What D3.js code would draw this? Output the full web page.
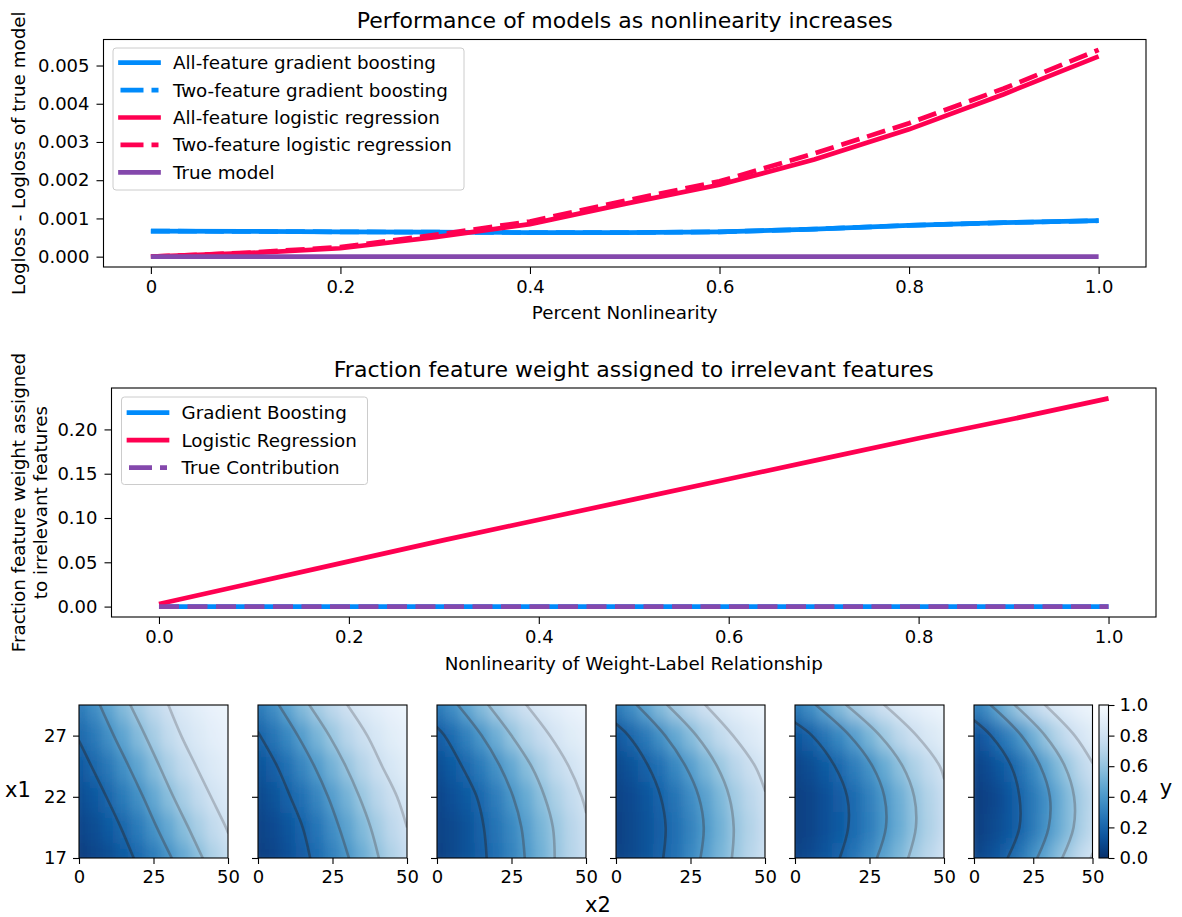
<!DOCTYPE html>
<html><head><meta charset="utf-8">
<script src="https://cdn.jsdelivr.net/npm/d3@7"></script>
<style>
body{margin:0;background:#fff;}
svg{font-family:"DejaVu Sans",sans-serif;}
</style></head><body>
<svg id="chart" width="1182" height="917"></svg>
<script>
// ================= DATA =================
// Top chart: performance vs. percent nonlinearity
const nonlinearity = [0, 0.1, 0.2, 0.3, 0.4, 0.5, 0.6, 0.7, 0.8, 0.9, 1.0];
const gbAllFeature = [0.00067, 0.00066, 0.00065, 0.00064, 0.00063, 0.00063, 0.00065, 0.00072, 0.00082, 0.00089, 0.00094];
const gbTwoFeature = [0.00067, 0.00066, 0.00065, 0.00064, 0.00063, 0.00063, 0.00065, 0.00072, 0.00082, 0.00089, 0.00094];
const lrAllFeature = [0, 0.00009, 0.00022, 0.00051, 0.00085, 0.00138, 0.00188, 0.00254, 0.00333, 0.00425, 0.00524];
const lrTwoFeature = [0, 0.00010, 0.00025, 0.00057, 0.00092, 0.00146, 0.00197, 0.00270, 0.00349, 0.00440, 0.00541];
const trueModel = [0, 0, 0, 0, 0, 0, 0, 0, 0, 0, 0];
const topLegendLabels = ["All-feature gradient boosting", "Two-feature gradient boosting", "All-feature logistic regression", "Two-feature logistic regression", "True model"];
const topXTicks = [0, 0.2, 0.4, 0.6, 0.8, 1.0];
const topXTickLabels = ["0", "0.2", "0.4", "0.6", "0.8", "1.0"];
const topYTicks = [0, 0.001, 0.002, 0.003, 0.004, 0.005];
const topYTickLabels = ["0.000", "0.001", "0.002", "0.003", "0.004", "0.005"];

// Middle chart: fraction weight on irrelevant features
const weightNonlinearity = [0, 0.1, 0.2, 0.3, 0.4, 0.5, 0.6, 0.7, 0.8, 0.9, 1.0];
const gbIrrelevant = [0, 0, 0, 0, 0, 0, 0, 0, 0, 0, 0];
const lrIrrelevant = [0.003, 0.027, 0.051, 0.075, 0.098, 0.121, 0.144, 0.167, 0.190, 0.212, 0.235];
const trueIrrelevant = [0, 0, 0, 0, 0, 0, 0, 0, 0, 0, 0];
const midLegendLabels = ["Gradient Boosting", "Logistic Regression", "True Contribution"];
const midXTicks = [0, 0.2, 0.4, 0.6, 0.8, 1.0];
const midXTickLabels = ["0.0", "0.2", "0.4", "0.6", "0.8", "1.0"];
const midYTicks = [0, 0.05, 0.10, 0.15, 0.20];
const midYTickLabels = ["0.00", "0.05", "0.10", "0.15", "0.20"];

// Bottom: y over (x2, x1) for increasing nonlinearity; rows are x1, columns are x2
const x2Values = [0, 5, 10, 15, 20, 25, 30, 35, 40, 45, 50];
const x1Values = [17, 19.5, 22, 24.5, 27, 29.5];
const gridPanel1 = [
  [.05,.08,.11,.16,.22,.29,.38,.47,.57,.67,.75],
  [.08,.11,.16,.21,.29,.38,.47,.57,.66,.74,.81],
  [.11,.15,.21,.29,.37,.47,.57,.66,.74,.81,.86],
  [.15,.21,.28,.37,.46,.56,.66,.74,.81,.86,.90],
  [.21,.28,.37,.46,.56,.65,.74,.81,.86,.90,.93],
  [.28,.36,.46,.56,.65,.73,.80,.86,.90,.93,.95]];
const gridPanel2 = [
  [.06,.08,.12,.17,.23,.31,.39,.49,.59,.68,.76],
  [.07,.10,.14,.20,.27,.36,.45,.55,.64,.73,.80],
  [.09,.13,.19,.25,.33,.43,.52,.62,.71,.78,.84],
  [.13,.18,.25,.33,.42,.52,.61,.70,.78,.84,.89],
  [.19,.26,.34,.43,.53,.62,.71,.78,.84,.89,.92],
  [.28,.36,.46,.56,.65,.73,.80,.86,.90,.93,.95]];
const gridPanel3 = [
  [.06,.09,.13,.18,.24,.32,.41,.51,.61,.70,.77],
  [.07,.09,.13,.19,.26,.34,.43,.53,.62,.71,.78],
  [.08,.12,.16,.22,.30,.39,.48,.58,.67,.75,.82],
  [.11,.16,.22,.29,.38,.47,.57,.66,.75,.81,.87],
  [.17,.23,.31,.40,.50,.60,.69,.76,.83,.88,.91],
  [.28,.36,.46,.56,.65,.73,.80,.86,.90,.93,.95]];
const gridPanel4 = [
  [.07,.09,.13,.19,.25,.34,.43,.53,.62,.71,.78],
  [.06,.09,.13,.18,.24,.32,.41,.51,.61,.69,.77],
  [.07,.10,.14,.20,.26,.35,.44,.54,.64,.72,.79],
  [.09,.13,.19,.25,.34,.43,.53,.62,.71,.78,.84],
  [.15,.21,.28,.37,.47,.56,.66,.74,.81,.86,.90],
  [.28,.36,.46,.56,.65,.73,.80,.86,.90,.93,.95]];
const gridPanel5 = [
  [.07,.10,.14,.20,.27,.35,.45,.54,.64,.72,.80],
  [.06,.08,.12,.16,.23,.30,.39,.49,.59,.68,.76],
  [.06,.08,.12,.17,.23,.31,.40,.50,.60,.69,.77],
  [.08,.11,.16,.22,.30,.38,.48,.58,.67,.75,.82],
  [.14,.19,.26,.34,.43,.53,.63,.72,.79,.85,.89],
  [.28,.36,.46,.56,.65,.73,.80,.86,.90,.93,.95]];
const gridPanel6 = [
  [.07,.11,.15,.21,.28,.37,.46,.56,.65,.74,.81],
  [.05,.08,.11,.15,.21,.28,.37,.47,.56,.66,.74],
  [.05,.07,.10,.15,.21,.28,.36,.46,.56,.65,.73],
  [.07,.10,.14,.19,.26,.34,.44,.54,.63,.72,.79],
  [.12,.17,.24,.31,.40,.50,.60,.69,.77,.83,.88],
  [.28,.36,.46,.56,.65,.73,.80,.86,.90,.93,.95]];
const contourLevels = [0.2, 0.4, 0.6, 0.8];
const x2Ticks = [0, 25, 50];
const x1Ticks = [17, 22, 27];
const x1Range = [17, 29.5];
const x2Range = [0, 50];
const colorbarTicks = [0, 0.2, 0.4, 0.6, 0.8, 1.0];

// ================= STYLE =================
const BLUE = "#008bfb", RED = "#ff0051", PURPLE = "#8448ac";
const FONT = "DejaVu Sans";
const TICK_FS = 18, LABEL_FS = 18.3, LEGEND_FS = 18.3, TITLE_FS = 22;
const LW = 4.7, DASH = "19,8", DASH_TRUE = "20,8.5", LEGEND_DASH = "23,8";
const svg = d3.select("#chart");
const defs = svg.append("defs");

function padDomain(vals, frac) {
  const [a, b] = d3.extent(vals);
  const p = (b - a) * frac;
  return [a - p, b + p];
}
function styleAxis(g) {
  g.attr("font-family", FONT).attr("font-size", TICK_FS);
  g.select(".domain").remove();
  g.selectAll(".tick line").attr("stroke", "#000").attr("stroke-width", 1.1);
  g.selectAll(".tick text").attr("fill", "#000");
}
function frame(g, x0, y0, w, h) {
  g.append("rect").attr("x", x0).attr("y", y0).attr("width", w).attr("height", h)
    .attr("fill", "none").attr("stroke", "#000").attr("stroke-width", 1.1);
}
function legend(g, x0, y0, w, h, rowY0, rowStep, items) {
  g.append("rect").attr("x", x0).attr("y", y0).attr("width", w).attr("height", h)
    .attr("rx", 3).attr("fill", "#fff").attr("fill-opacity", 0.8)
    .attr("stroke", "#cccccc").attr("stroke-width", 1);
  items.forEach((it, i) => {
    const yy = rowY0 + i * rowStep;
    g.append("line").attr("x1", x0 + 7.5).attr("x2", x0 + 45.5).attr("y1", yy).attr("y2", yy)
      .attr("stroke", it.color).attr("stroke-width", LW)
      .attr("stroke-linecap", it.dash ? "butt" : "square")
      .attr("stroke-dasharray", it.dash ? LEGEND_DASH : null);
    g.append("text").attr("x", x0 + 60).attr("y", yy).attr("dy", "0.36em")
      .attr("font-size", LEGEND_FS).attr("font-family", FONT).attr("fill", "#000").text(it.label);
  });
}

// ================= TOP CHART =================
(function () {
  const L = 103.5, R = 1146, T = 39.5, B = 267;
  const g = svg.append("g");
  const x = d3.scaleLinear().domain(padDomain(nonlinearity, 0.05)).range([L, R]);
  const allVals = [].concat(gbAllFeature, gbTwoFeature, lrAllFeature, lrTwoFeature, trueModel);
  const y = d3.scaleLinear().domain(padDomain(allVals, 0.05)).range([B, T]);
  const ax = g.append("g").attr("transform", `translate(0,${B})`)
    .call(d3.axisBottom(x).tickValues(topXTicks).tickFormat((d, i) => topXTickLabels[i]).tickSize(7).tickPadding(6));
  styleAxis(ax);
  const ay = g.append("g").attr("transform", `translate(${L},0)`)
    .call(d3.axisLeft(y).tickValues(topYTicks).tickFormat((d, i) => topYTickLabels[i]).tickSize(7).tickPadding(7));
  styleAxis(ay);
  const series = [
    { v: gbAllFeature, c: BLUE, dash: null },
    { v: gbTwoFeature, c: BLUE, dash: DASH },
    { v: lrAllFeature, c: RED, dash: null },
    { v: lrTwoFeature, c: RED, dash: DASH },
    { v: trueModel, c: PURPLE, dash: null }];
  series.forEach(s => {
    const line = d3.line().x((d, i) => x(nonlinearity[i])).y(d => y(d));
    g.append("path").datum(s.v).attr("d", line).attr("fill", "none")
      .attr("stroke", s.c).attr("stroke-width", LW).attr("stroke-dasharray", s.dash);
  });
  frame(g, L, T, R - L, B - T);
  g.append("text").attr("x", (L + R) / 2).attr("y", 28).attr("text-anchor", "middle")
    .attr("font-size", TITLE_FS).attr("font-family", FONT).text("Performance of models as nonlinearity increases");
  g.append("text").attr("x", (L + R) / 2).attr("y", 319).attr("text-anchor", "middle")
    .attr("font-size", LABEL_FS).attr("font-family", FONT).text("Percent Nonlinearity");
  g.append("text").attr("transform", `translate(19,${(T + B) / 2}) rotate(-90)`).attr("text-anchor", "middle")
    .attr("dy", "0.35em").attr("font-size", LABEL_FS).attr("font-family", FONT).text("Logloss - Logloss of true model");
  legend(g, 113, 48, 351, 142, 62.7, 27.4, [
    { label: topLegendLabels[0], color: BLUE },
    { label: topLegendLabels[1], color: BLUE, dash: true },
    { label: topLegendLabels[2], color: RED },
    { label: topLegendLabels[3], color: RED, dash: true },
    { label: topLegendLabels[4], color: PURPLE }]);
})();

// ================= MIDDLE CHART =================
(function () {
  const L = 111.5, R = 1156, T = 388, B = 617;
  const g = svg.append("g");
  const x = d3.scaleLinear().domain(padDomain(weightNonlinearity, 0.05)).range([L, R]);
  const allVals = [].concat(gbIrrelevant, lrIrrelevant, trueIrrelevant);
  const y = d3.scaleLinear().domain(padDomain(allVals, 0.05)).range([B, T]);
  const ax = g.append("g").attr("transform", `translate(0,${B})`)
    .call(d3.axisBottom(x).tickValues(midXTicks).tickFormat((d, i) => midXTickLabels[i]).tickSize(7).tickPadding(6));
  styleAxis(ax);
  const ay = g.append("g").attr("transform", `translate(${L},0)`)
    .call(d3.axisLeft(y).tickValues(midYTicks).tickFormat((d, i) => midYTickLabels[i]).tickSize(7).tickPadding(7));
  styleAxis(ay);
  const series = [
    { v: gbIrrelevant, c: BLUE, dash: null },
    { v: lrIrrelevant, c: RED, dash: null },
    { v: trueIrrelevant, c: PURPLE, dash: DASH_TRUE }];
  series.forEach(s => {
    const line = d3.line().x((d, i) => x(weightNonlinearity[i])).y(d => y(d));
    g.append("path").datum(s.v).attr("d", line).attr("fill", "none")
      .attr("stroke", s.c).attr("stroke-width", LW).attr("stroke-dasharray", s.dash);
  });
  frame(g, L, T, R - L, B - T);
  g.append("text").attr("x", (L + R) / 2).attr("y", 377).attr("text-anchor", "middle")
    .attr("font-size", TITLE_FS).attr("font-family", FONT).text("Fraction feature weight assigned to irrelevant features");
  g.append("text").attr("x", (L + R) / 2).attr("y", 670).attr("text-anchor", "middle")
    .attr("font-size", LABEL_FS).attr("font-family", FONT).text("Nonlinearity of Weight-Label Relationship");
  const yl = g.append("text").attr("transform", `translate(19,${(T + B) / 2}) rotate(-90)`).attr("text-anchor", "middle")
    .attr("font-size", LABEL_FS).attr("font-family", FONT);
  yl.append("tspan").attr("x", 0).attr("dy", "0.35em").text("Fraction feature weight assigned");
  yl.append("tspan").attr("x", 0).attr("dy", "1.2em").text("to irrelevant features");
  legend(g, 121.5, 397, 246, 87.5, 412.7, 27.5, [
    { label: midLegendLabels[0], color: BLUE },
    { label: midLegendLabels[1], color: RED },
    { label: midLegendLabels[2], color: PURPLE, dash: true }]);
})();

// ================= BOTTOM HEATMAPS =================
(function () {
  const grids = [gridPanel1, gridPanel2, gridPanel3, gridPanel4, gridPanel5, gridPanel6];
  const T = 705, B = 858;
  const color = v => d3.interpolateBlues(1 - v);
  const contourColors = ["#262c36", "#444c57", "#636b75", "#838a93"];

  const blur = defs.append("filter").attr("id", "smooth")
    .attr("x", 0).attr("y", 0).attr("width", 1).attr("height", 1);
  blur.append("feGaussianBlur").attr("stdDeviation", "5 9").attr("edgeMode", "duplicate");

  function contourLines(grid, level) {
    const C = grid[0].length;
    const st = grid.map(row => {
      if (row[0] >= level) return { s: "L" };
      if (row[C - 1] < level) return { s: "R" };
      let j = 0;
      while (!(row[j] < level && row[j + 1] >= level)) j++;
      const t = (level - row[j]) / (row[j + 1] - row[j]);
      return { s: "I", x: x2Values[j] + t * (x2Values[j + 1] - x2Values[j]) };
    });
    const edgePt = (col, r0, r1) => {
      const a = grid[r0][col], b = grid[r1][col];
      const t = (level - a) / (b - a);
      return [x2Values[col], x1Values[r0] + t * (x1Values[r1] - x1Values[r0])];
    };
    const lines = [];
    let cur = null;
    st.forEach((s, r) => {
      if (r > 0) {
        const p = st[r - 1];
        if (p.s === "I" && s.s !== "I") { cur.push(edgePt(s.s === "L" ? 0 : C - 1, r - 1, r)); lines.push(cur); cur = null; }
        else if (p.s !== "I" && s.s === "I") { cur = [edgePt(p.s === "L" ? 0 : C - 1, r - 1, r)]; }
      }
      if (s.s === "I") { if (!cur) cur = []; cur.push([s.x, x1Values[r]]); }
    });
    if (cur) lines.push(cur);
    return lines;
  }

  grids.forEach((grid, k) => {
    const L = 79 + k * 179;
    const W = k < 5 ? 149 : 118.5;
    const x = d3.scaleLinear().domain(x2Range).range([L, L + W]);
    const y = d3.scaleLinear().domain(x1Range).range([B, T]);
    const g = svg.append("g");
    const clipId = "clip" + k;
    defs.append("clipPath").attr("id", clipId).append("rect")
      .attr("x", L).attr("y", T).attr("width", W).attr("height", B - T);
    const hm = g.append("g").attr("clip-path", `url(#${clipId})`).append("g").attr("filter", "url(#smooth)");
    const dx = x2Values[1] - x2Values[0], dy = x1Values[1] - x1Values[0];
    grid.forEach((row, r) => {
      row.forEach((v, c) => {
        const xa = x(x2Values[c] - dx / 2), xb = x(x2Values[c] + dx / 2);
        const ya = y(x1Values[r] + dy / 2), yb = y(x1Values[r] - dy / 2);
        hm.append("rect").attr("x", xa).attr("y", ya).attr("width", xb - xa + 0.6).attr("height", yb - ya + 0.6)
          .attr("fill", color(v));
      });
    });
    const cg = g.append("g").attr("clip-path", `url(#${clipId})`);
    const line = d3.line().x(d => x(d[0])).y(d => y(d[1])).curve(d3.curveCatmullRom.alpha(0.5));
    contourLevels.forEach((lv, li) => {
      contourLines(grid, lv).forEach(pts => {
        cg.append("path").attr("d", line(pts)).attr("fill", "none")
          .attr("stroke", contourColors[li]).attr("stroke-opacity", 0.5).attr("stroke-width", 2.6)
          .attr("stroke-linecap", "round");
      });
    });
    const ax = g.append("g").attr("transform", `translate(0,${B})`)
      .call(d3.axisBottom(x).tickValues(x2Ticks).tickFormat(d3.format("d")).tickSize(6).tickPadding(6));
    styleAxis(ax);
    const ay = g.append("g").attr("transform", `translate(${L},0)`)
      .call(d3.axisLeft(y).tickValues(x1Ticks).tickFormat(k === 0 ? d3.format("d") : () => "").tickSize(6).tickPadding(6));
    styleAxis(ay);
    frame(g, L, T, W, B - T);
  });

  // colorbar
  const cbL = 1099, cbW = 9.5;
  const cy = d3.scaleLinear().domain([0, 1]).range([B, T]);
  const grad = defs.append("linearGradient").attr("id", "cbgrad")
    .attr("x1", 0).attr("y1", 1).attr("x2", 0).attr("y2", 0);
  d3.range(0, 1.0001, 0.05).forEach(v => {
    grad.append("stop").attr("offset", v).attr("stop-color", color(v));
  });
  svg.append("rect").attr("x", cbL).attr("y", T).attr("width", cbW).attr("height", B - T)
    .attr("fill", "url(#cbgrad)");
  const acb = svg.append("g").attr("transform", `translate(${cbL + cbW},0)`)
    .call(d3.axisRight(cy).tickValues(colorbarTicks).tickFormat(d3.format(".1f")).tickSize(6).tickPadding(5));
  styleAxis(acb);
  frame(svg, cbL, T, cbW, B - T);

  svg.append("text").attr("x", 18).attr("y", 797).attr("text-anchor", "middle")
    .attr("font-size", 21).attr("font-family", FONT).text("x1");
  svg.append("text").attr("x", 598).attr("y", 912).attr("text-anchor", "middle")
    .attr("font-size", 21).attr("font-family", FONT).text("x2");
  svg.append("text").attr("x", 1166).attr("y", 795).attr("text-anchor", "middle")
    .attr("font-size", 21).attr("font-family", FONT).text("y");
})();
</script>
</body></html>
